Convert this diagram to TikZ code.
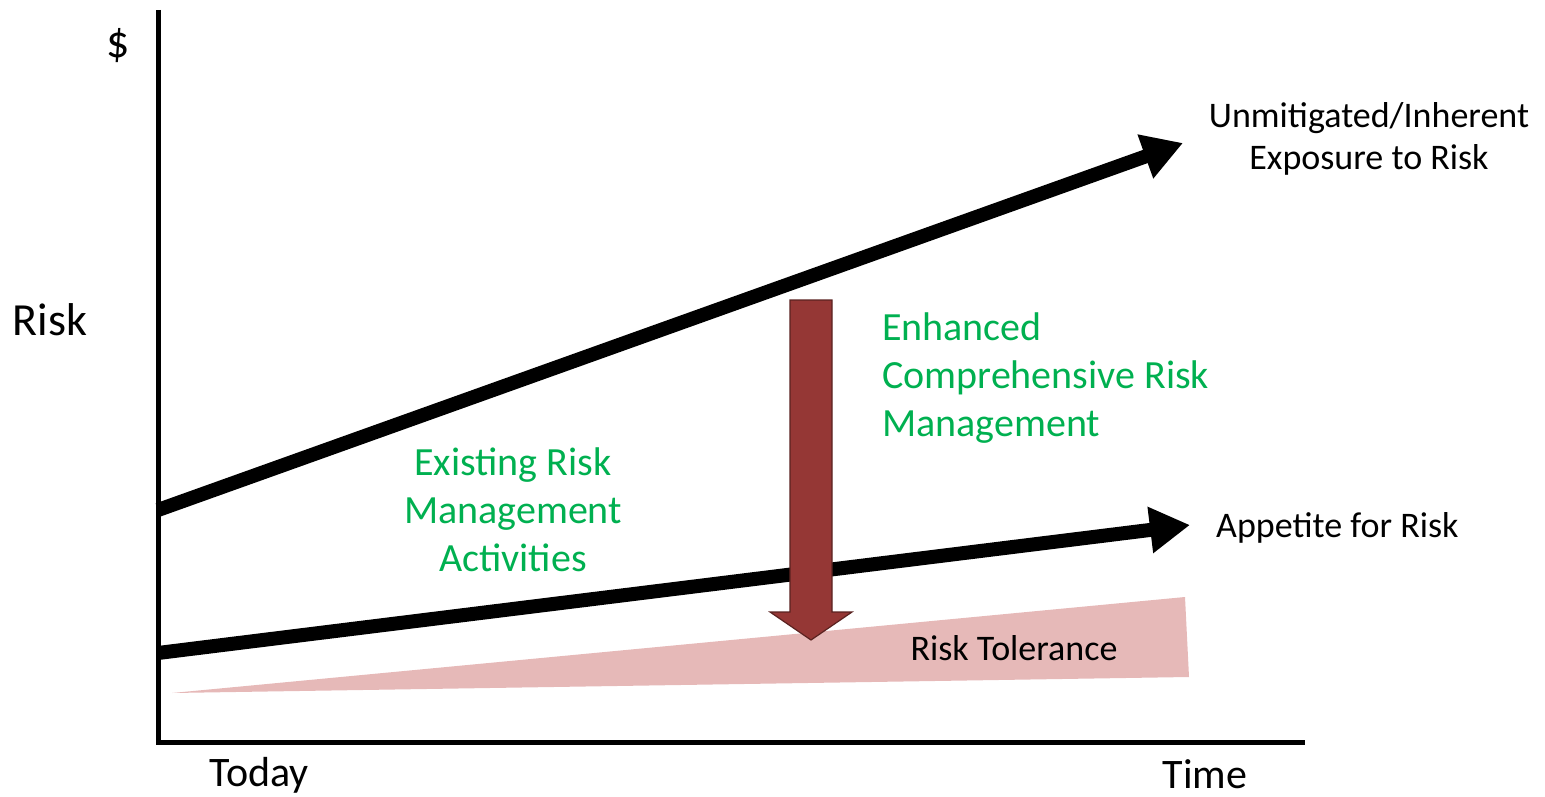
\documentclass[tikz,border=0pt]{standalone}
\usepackage{fontspec}
\setmainfont{Carlito}
\usetikzlibrary{arrows.meta}
\definecolor{riskgreen}{HTML}{00B050}
\definecolor{tolpink}{HTML}{E6B9B8}
\definecolor{mitred}{HTML}{953735}
\definecolor{mitedge}{HTML}{5A2220}
\tikzset{
  axisline/.style={line width=5pt},
  trendline/.style={line width=14pt, -{Triangle[length=40pt,width=44pt]}},
  blacklabel/.style={font=\fontsize{36}{42}\selectfont, inner sep=0pt},
  axislabel/.style={font=\fontsize{42}{48}\selectfont, inner sep=0pt},
  greenlabel/.style={font=\fontsize{40}{48}\selectfont, text=riskgreen, inner sep=0pt},
}
\begin{document}
\begin{tikzpicture}[x=1pt,y=-1pt]
\useasboundingbox (0,0) rectangle (1545,797);

% axes
\coordinate (origin) at (158,742);
\coordinate (ytop) at (158,10);
\coordinate (xend) at (1305,742);
\draw[axisline] (ytop) -- (origin) -- (xend);

% risk tolerance wedge
\fill[tolpink] (172,693) -- (1185,597) -- (1189,677) -- cycle;

% inherent exposure and appetite trends
\coordinate (expStart) at (158,510);
\coordinate (expEnd) at (1183,143);
\coordinate (appStart) at (158,653);
\coordinate (appEnd) at (1190,525);
\draw[trendline] (expStart) -- (expEnd);
\draw[trendline] (appStart) -- (appEnd);

% mitigation block arrow
\filldraw[fill=mitred, draw=mitedge, line width=1.2pt, line join=miter]
  (790,300) -- (832,300) -- (832,612) -- (852,612) -- (811,640)
  -- (770,612) -- (790,612) -- cycle;

% labels
\node[font=\fontsize{46}{52}\selectfont, inner sep=0pt] (dollar) at (118,46) {\$};
\node[font=\fontsize{46}{52}\selectfont, inner sep=0pt] (risk) at (50,320) {Risk};
\node[axislabel, anchor=base] (today) at (259,786) {Today};
\node[axislabel, anchor=base] (time) at (1205,788) {Time};
\node[blacklabel, align=center] (inherent) at (1369,139)
  {Unmitigated/Inherent\\Exposure to Risk};
\node[blacklabel, anchor=west] (appetite) at (1216,528) {Appetite for Risk};
\node[blacklabel] (tolerance) at (1014,648) {Risk Tolerance};
\node[greenlabel, align=center] (existing) at (513,510)
  {Existing Risk\\Management\\Activities};
\node[greenlabel, align=left, anchor=west] (enhanced) at (882,378)
  {Enhanced\\Comprehensive Risk\\Management};
\end{tikzpicture}
\end{document}
